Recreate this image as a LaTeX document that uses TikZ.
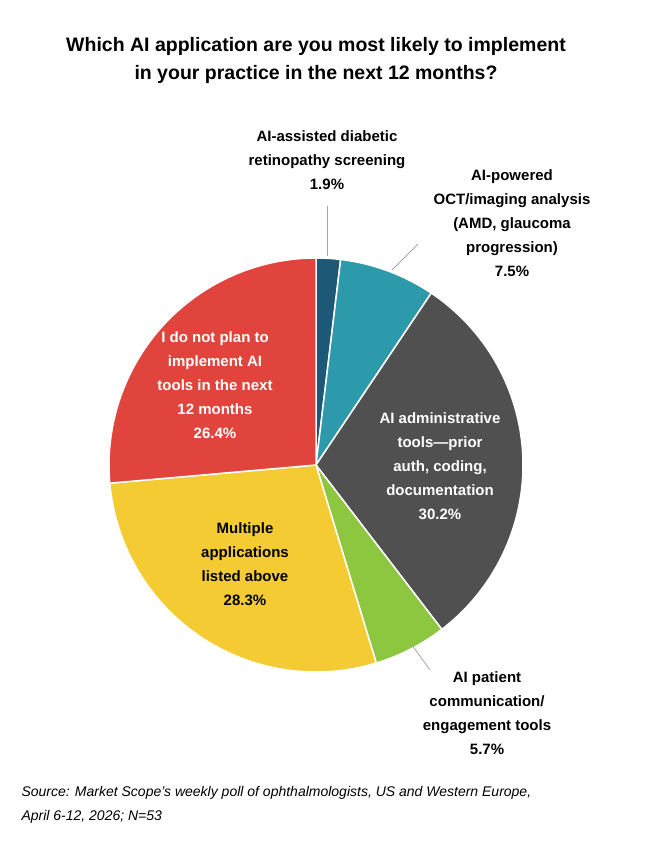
\documentclass[tikz,border=0pt]{standalone}
\usepackage{fontspec}
\setmainfont{Liberation Sans}
\definecolor{cblue}{HTML}{1D5876}
\definecolor{cteal}{HTML}{2C9AAB}
\definecolor{cgray}{HTML}{505050}
\definecolor{cgreen}{HTML}{8DC63F}
\definecolor{cyellow}{HTML}{F4CB33}
\definecolor{cred}{HTML}{E0443C}
\begin{document}
\begin{tikzpicture}[x=1pt,y=-1pt,
  lbl/.style={align=center,font=\fontsize{15}{24}\selectfont\bfseries},
  slice/.style={draw=white,line width=1.5pt},
  leader/.style={draw=gray!70,line width=0.8pt}]
\useasboundingbox[fill=white] (0,0) rectangle (650,862);
\coordinate (c) at (316,465);
\def\R{207}
\newcommand\pieslice[3]{\filldraw[slice,fill=#3] (c) -- ++({cos(#1)*\R},{-sin(#1)*\R}) arc[start angle=-#1,end angle=-#2,radius=\R] -- cycle;}
\pieslice{90}{83.16}{cblue}
\pieslice{83.16}{56.16}{cteal}
\pieslice{56.16}{-52.56}{cgray}
\pieslice{-52.56}{-73.08}{cgreen}
\pieslice{-73.08}{-174.96}{cyellow}
\pieslice{-174.96}{-270}{cred}
\node[align=center,font=\fontsize{19.5}{28}\selectfont\bfseries] (title) at (316,60) {Which AI application are you most likely to implement\\in your practice in the next 12 months?};
\node[lbl] (lblue) at (327,160) {AI-assisted diabetic\\retinopathy screening\\1.9\%};
\node[lbl] (lteal) at (512,223) {AI-powered\\OCT/imaging analysis\\(AMD, glaucoma\\progression)\\7.5\%};
\node[lbl,text=white] (lgray) at (440,466) {AI administrative\\tools—prior\\auth, coding,\\documentation\\30.2\%};
\node[lbl,text=white] (lred) at (215,385) {I do not plan to\\implement AI\\tools in the next\\12 months\\26.4\%};
\node[lbl] (lyellow) at (245,564) {Multiple\\applications\\listed above\\28.3\%};
\node[lbl] (lgreen) at (487,713) {AI patient\\communication/\\engagement tools\\5.7\%};
\coordinate (pb1) at (327,256);
\coordinate (pb2) at (327,206);
\coordinate (pt1) at (392,270);
\coordinate (pt2) at (418,244);
\coordinate (pg1) at (412,645);
\coordinate (pg2) at (430,670);
\draw[leader] (pb1) -- (pb2);
\draw[leader] (pt1) -- (pt2);
\draw[leader] (pg1) -- (pg2);
\node[anchor=west,align=left,font=\fontsize{14}{24}\selectfont\itshape] (src) at (18,805) {Source: Market Scope’s weekly poll of ophthalmologists, US and Western Europe,\\April 6-12, 2026; N=53};
\end{tikzpicture}
\end{document}
